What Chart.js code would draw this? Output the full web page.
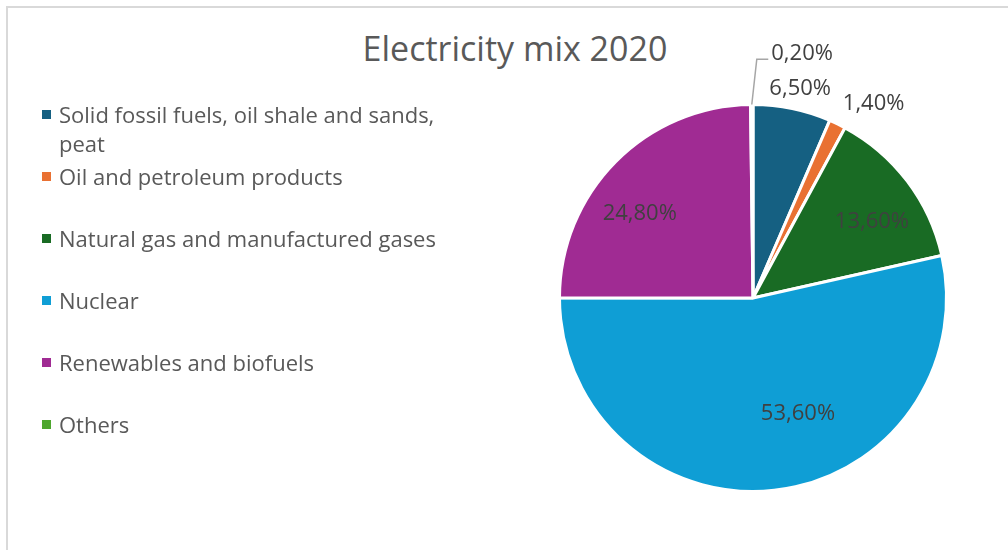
<!DOCTYPE html>
<html>
<head>
<meta charset="utf-8">
<script src="https://cdn.jsdelivr.net/npm/chart.js@4.4.1/dist/chart.umd.min.js"></script>
<style>
  html, body { margin:0; padding:0; background:#fff; }
  body { width:1008px; height:550px; position:relative; overflow:hidden; font-family:"Open Sans", sans-serif; }
  #frame { position:absolute; left:6px; top:6px; width:1010px; height:560px; border:2px solid #d9d9d9; box-sizing:border-box; }
  #title { position:absolute; left:0; width:1030px; top:27px; text-align:center; font-size:34px; color:#595959; line-height:42px; }
  #chart { position:absolute; left:0; top:0; }
  .lg { position:absolute; left:42px; font-size:22px; color:#595959; line-height:29px; }
  .lg span.sq { position:absolute; left:0; top:10px; width:9px; height:9px; }
  .lg span.tx { display:block; margin-left:17px; width:392px; }
</style>
</head>
<body>
<div id="frame"></div>
<div id="title">Electricity mix 2020</div>
<canvas id="chart" width="1008" height="550"></canvas>
<div id="legend"></div>
<script>
"use strict";

// data
var categories = [
  "Solid fossil fuels, oil shale and sands, peat",
  "Oil and petroleum products",
  "Natural gas and manufactured gases",
  "Nuclear",
  "Renewables and biofuels",
  "Others"
];
var shares = [6.5, 1.4, 13.6, 53.6, 24.8, 0.2];
var valueLabels = ["6,50%", "1,40%", "13,60%", "53,60%", "24,80%", "0,20%"];

// style
var colors = ["#156082", "#E97132", "#196B24", "#0F9ED5", "#A02B93", "#4EA72E"];
var labelRadius = [1.11, 1.18, 0.73, 0.64, 0.73, 1.29];
var labelShift = [1, 6, 4.5, -15, -8, 11.7];

// legend (html)
var lg = document.getElementById("legend");
categories.forEach(function(c, i) {
  var d = document.createElement("div");
  d.className = "lg";
  d.style.top = (114 + 62 * i - 14.5) + "px";
  d.innerHTML = '<span class="sq" style="background:' + colors[i] + '"></span><span class="tx"></span>';
  d.querySelector(".tx").textContent = c;
  lg.appendChild(d);
});

// value labels drawn from arc geometry
var pieLabels = {
  id: "pieLabels",
  afterDatasetsDraw: function(chart) {
    var ctx = chart.ctx;
    var arcs = chart.getDatasetMeta(0).data;
    ctx.save();
    ctx.font = '22px "Open Sans", sans-serif';
    ctx.fillStyle = "#404040";
    ctx.textBaseline = "middle";
    arcs.forEach(function(arc, i) {
      var p = arc.getProps(["x", "y", "startAngle", "endAngle", "outerRadius"], true);
      var mid = (p.startAngle + p.endAngle) / 2 + labelShift[i] * Math.PI / 180;
      var r = p.outerRadius * labelRadius[i];
      var lx = p.x + Math.cos(mid) * r;
      var ly = p.y + Math.sin(mid) * r;
      var txt = valueLabels[i];
      ctx.textAlign = "center";
      ctx.fillText(txt, lx, ly);
      if (i === categories.length - 1) {
        // leader line for the tiny slice
        var m0 = (p.startAngle + p.endAngle) / 2;
        var ex = p.x + Math.cos(m0) * p.outerRadius;
        var ey = p.y + Math.sin(m0) * p.outerRadius;
        var w = ctx.measureText(txt).width;
        var tx = lx - w / 2 - 3;
        ctx.strokeStyle = "#a6a6a6";
        ctx.lineWidth = 1.5;
        ctx.beginPath();
        ctx.moveTo(ex, ey);
        ctx.lineTo(ex + 5, ly + 6);
        ctx.lineTo(tx, ly + 6);
        ctx.stroke();
      }
    });
    ctx.restore();
  }
};

new Chart(document.getElementById("chart").getContext("2d"), {
  type: "pie",
  data: {
    labels: categories,
    datasets: [{
      data: shares,
      backgroundColor: colors,
      borderColor: "#ffffff",
      borderWidth: 3
    }]
  },
  options: {
    responsive: false,
    animation: false,
    layout: { padding: { left: 558, right: 60, top: 103, bottom: 57 } },
    plugins: {
      legend: { display: false },
      title: { display: false },
      tooltip: { enabled: false }
    }
  },
  plugins: [pieLabels]
});
</script>
</body>
</html>
